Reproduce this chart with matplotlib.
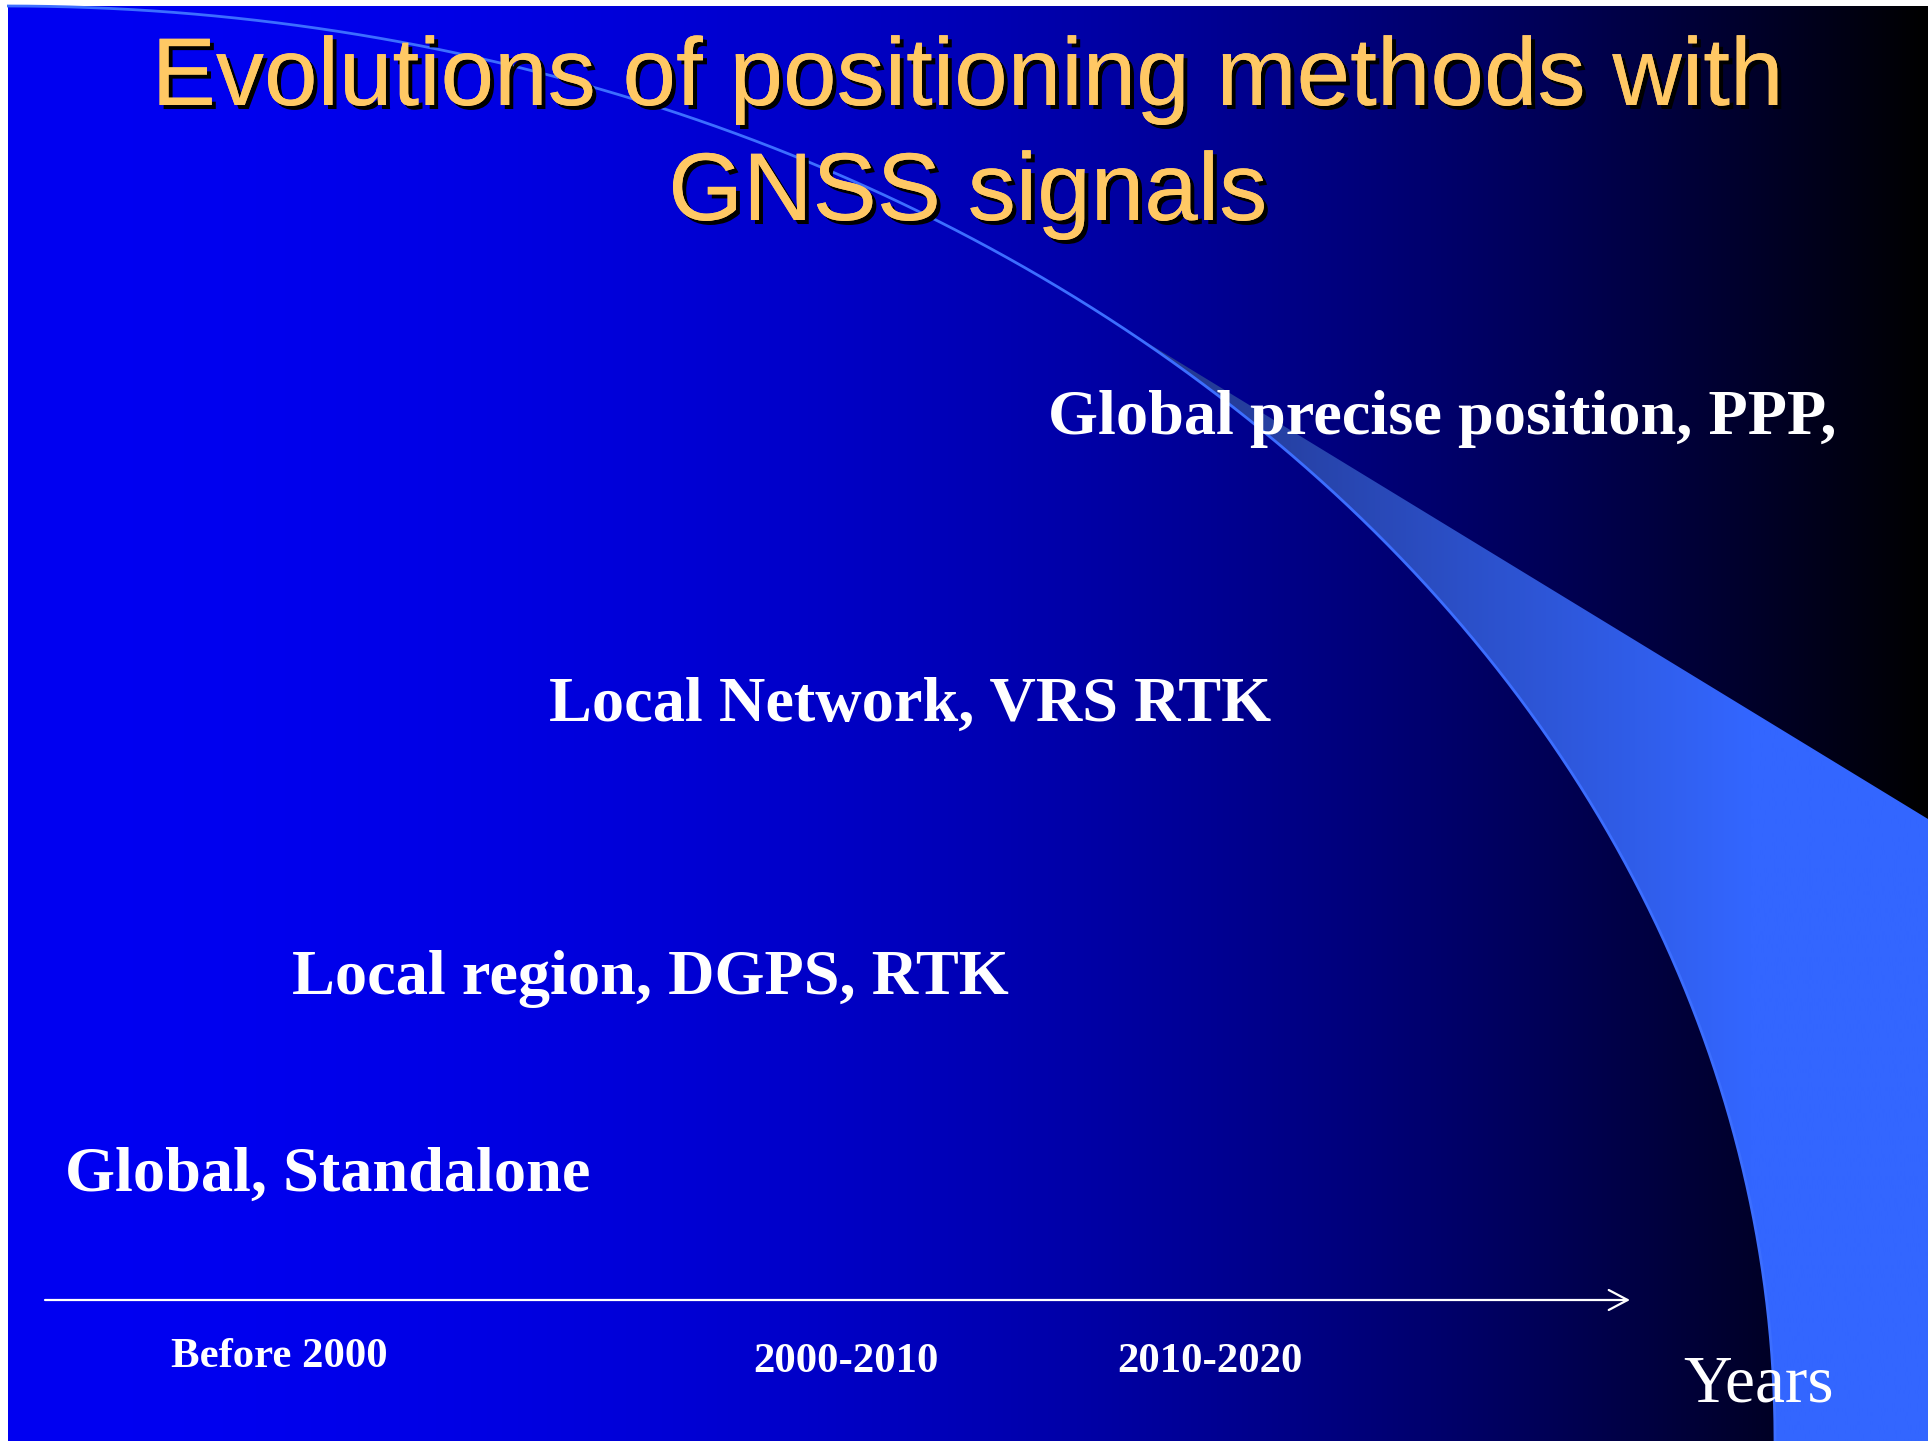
import numpy as np
import matplotlib.pyplot as plt
from matplotlib import patheffects
from matplotlib.patches import Polygon

# slide text
TITLE_LINES = ["Evolutions of positioning methods with", "GNSS signals"]
METHODS = ["Global, Standalone", "Local region, DGPS, RTK",
           "Local Network, VRS RTK", "Global precise position, PPP,"]
PERIODS = ["Before 2000", "2000-2010", "2010-2020"]
AXIS_LABEL = "Years"

# layout in pixels (y counted from the top of the image)
W, H = 1933, 1441
SLIDE = (8, 1928, 6, 1441)          # left, right, top, bottom
TITLE_X, TITLE_Y = 968, [105, 220]
METHOD_X = [65, 292, 549, 1048]
METHOD_Y = [1191, 994, 721, 434]
PERIOD_X = [171, 753, 1117]
PERIOD_Y = [1367, 1372, 1372]
YEARS_X, YEARS_Y = 1683, 1402
ARROW_X, ARROW_Y = (45, 1630), 1300

GOLD = "#FFC864"
SWOOSH = "#3C6EFF"

fig = plt.figure(figsize=(W / 100, H / 100), dpi=100, facecolor="white")
ax = fig.add_axes([0, 0, 1, 1])
ax.set_xlim(0, W)
ax.set_ylim(H, 0)
ax.axis("off")

# background: blue -> black, horizontal
l, r, t, b = SLIDE
u = np.linspace(0, 1, 600)
bg = np.zeros((1, u.size, 3))
bg[0, :, 2] = 242 * (1 - u ** 2) / 255
ax.imshow(bg, extent=(l, r, b, t), aspect="auto", interpolation="bilinear", zorder=0)

# quarter-ellipse swoosh from the top-left corner down to the bottom edge
cx, cy, ea, eb = 7, 1441, 1768, 1435
th = np.linspace(np.pi / 2, 0, 800)
ex = cx + ea * np.cos(th)
ey = cy - eb * np.sin(th)

# straight upper edge of the wedge
def edge(x):
    return 819 - 0.61 * (1928 - x)

i0 = np.argmax(ey > edge(ex))
wx = np.concatenate([[ex[i0], 1928, 1928], ex[i0:][::-1]])
wy = np.concatenate([[edge(ex[i0]), edge(1928), 1441], ey[i0:][::-1]])
wedge = Polygon(np.column_stack([wx, wy]), closed=True, fc="none", ec="none")
ax.add_patch(wedge)

c0 = np.array([35, 55, 140]) / 255
c1 = np.array([51, 102, 255]) / 255
gx = np.linspace(1100, 1928, 400)
f = np.clip((gx - 1150) / 600, 0, 1)[:, None]
grad = (c0 * (1 - f) + c1 * f)[None, :, :]
im = ax.imshow(grad, extent=(1100, 1928, 1441, 300), aspect="auto",
               interpolation="bilinear", zorder=1)
im.set_clip_path(wedge)

ax.plot(ex, ey, color=SWOOSH, lw=2.0, zorder=2, solid_capstyle="butt")

# title with drop shadow
shadow = [patheffects.withSimplePatchShadow(offset=(2.9, -2.9),
                                            shadow_rgbFace="black", alpha=1.0),
          patheffects.Normal()]
for line, y in zip(TITLE_LINES, TITLE_Y):
    ax.text(TITLE_X, y, line, ha="center", va="baseline", color=GOLD,
            family="Liberation Sans", fontsize=69.3, zorder=6,
            path_effects=shadow)

for label, x, y in zip(METHODS, METHOD_X, METHOD_Y):
    ax.text(x, y, label, ha="left", va="baseline", color="white",
            family="Liberation Serif", weight="bold", fontsize=46.3, zorder=6)

# time axis
ax.annotate("", xy=(ARROW_X[1], ARROW_Y), xytext=(ARROW_X[0], ARROW_Y),
            arrowprops=dict(arrowstyle="->,head_length=0.68,head_width=0.36",
                            color="white", lw=1.6, mutation_scale=20,
                            shrinkA=0, shrinkB=0), zorder=6)

for label, x, y in zip(PERIODS, PERIOD_X, PERIOD_Y):
    ax.text(x, y, label, ha="left", va="baseline", color="white",
            family="Liberation Serif", weight="bold", fontsize=30.8, zorder=6)

ax.text(YEARS_X, YEARS_Y, AXIS_LABEL, ha="left", va="baseline", color="white",
        family="Liberation Serif", fontsize=48.5, zorder=6)

fig.savefig("out.png", dpi=100, facecolor="white")
